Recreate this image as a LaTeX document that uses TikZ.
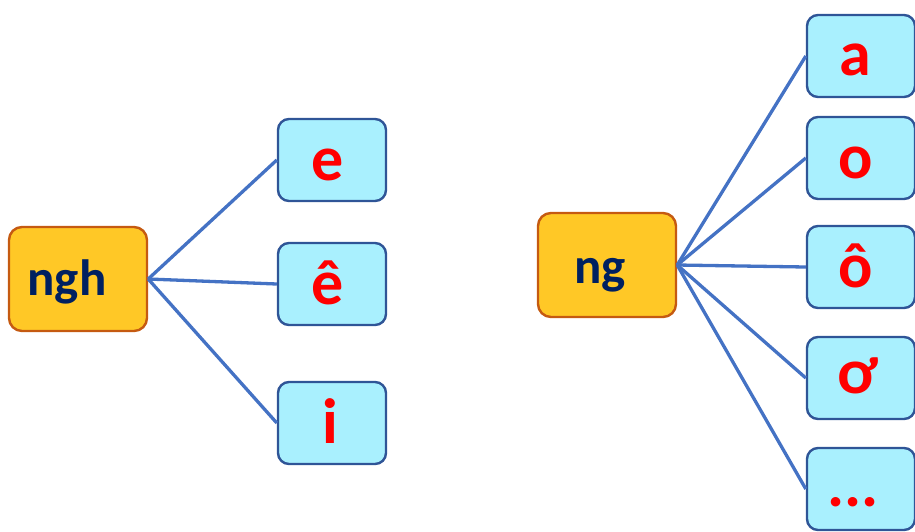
\documentclass[tikz,border=0pt]{standalone}
\usepackage{fontspec}
\setmainfont{Carlito}
\definecolor{cyanfill}{HTML}{A9F0FE}
\definecolor{cyanedge}{HTML}{2F5597}
\definecolor{goldfill}{HTML}{FFC826}
\definecolor{goldedge}{HTML}{C55A11}
\definecolor{linkblue}{HTML}{4472C4}
\definecolor{navy}{HTML}{002060}
\definecolor{redtext}{HTML}{FF0000}
\tikzset{
  rootbox/.style={draw=goldedge, fill=goldfill, line width=2.4pt, rounded corners=13pt,
    minimum width=138pt, minimum height=104pt, inner sep=0pt},
  leafbox/.style={draw=cyanedge, fill=cyanfill, line width=2.4pt, rounded corners=11pt,
    minimum width=108pt, minimum height=82pt, inner sep=0pt},
  roottext/.style={font=\fontsize{51}{51}\selectfont\bfseries, text=navy, anchor=base, inner sep=0pt},
  leaftext/.style={font=\fontsize{64}{64}\selectfont\bfseries, text=redtext, anchor=base, inner sep=0pt},
  link/.style={draw=linkblue, line width=3.3pt}
}
\begin{document}
\begin{tikzpicture}[x=1pt,y=-1pt]
\useasboundingbox (0,0) rectangle (915,531);
% left group
\node[rootbox] (ngh) at (78,279) {};
\node[leafbox] (e) at (332,160) {};
\node[leafbox] (ee) at (332,284) {};
\node[leafbox] (i) at (332,423) {};
\draw[link] (ngh.east) -- (e.west);
\draw[link] (ngh.east) -- (ee.west);
\draw[link] (ngh.east) -- (i.west);
\node[roottext] (nghtxt) at (67,295) {ngh};
\node[leaftext] (etxt) at (328,180) {e};
\node[leaftext] (eetxt) at (328,304) {ê};
\node[leaftext] (itxt) at (330,443) {i};
% right group
\node[rootbox] (ng) at (607,265) {};
\node[leafbox] (a) at (861,56) {};
\node[leafbox] (o) at (861,158) {};
\node[leafbox] (oo) at (861,267) {};
\node[leafbox] (ow) at (861,378) {};
\node[leafbox] (dots) at (861,489) {};
\draw[link] (ng.east) -- (a.west);
\draw[link] (ng.east) -- (o.west);
\draw[link] (ng.east) -- (oo.west);
\draw[link] (ng.east) -- (ow.west);
\draw[link] (ng.east) -- (dots.west);
\node[roottext] (ngtxt) at (600,283) {ng};
\node[leaftext] (atxt) at (855,75) {a};
\node[leaftext] (otxt) at (856,178) {o};
\node[leaftext] (ootxt) at (856,287) {ô};
\node[leaftext] (owtxt) at (858,393) {ơ};
\node[leaftext] (dotstxt) at (853,506) {...};
\end{tikzpicture}
\end{document}
